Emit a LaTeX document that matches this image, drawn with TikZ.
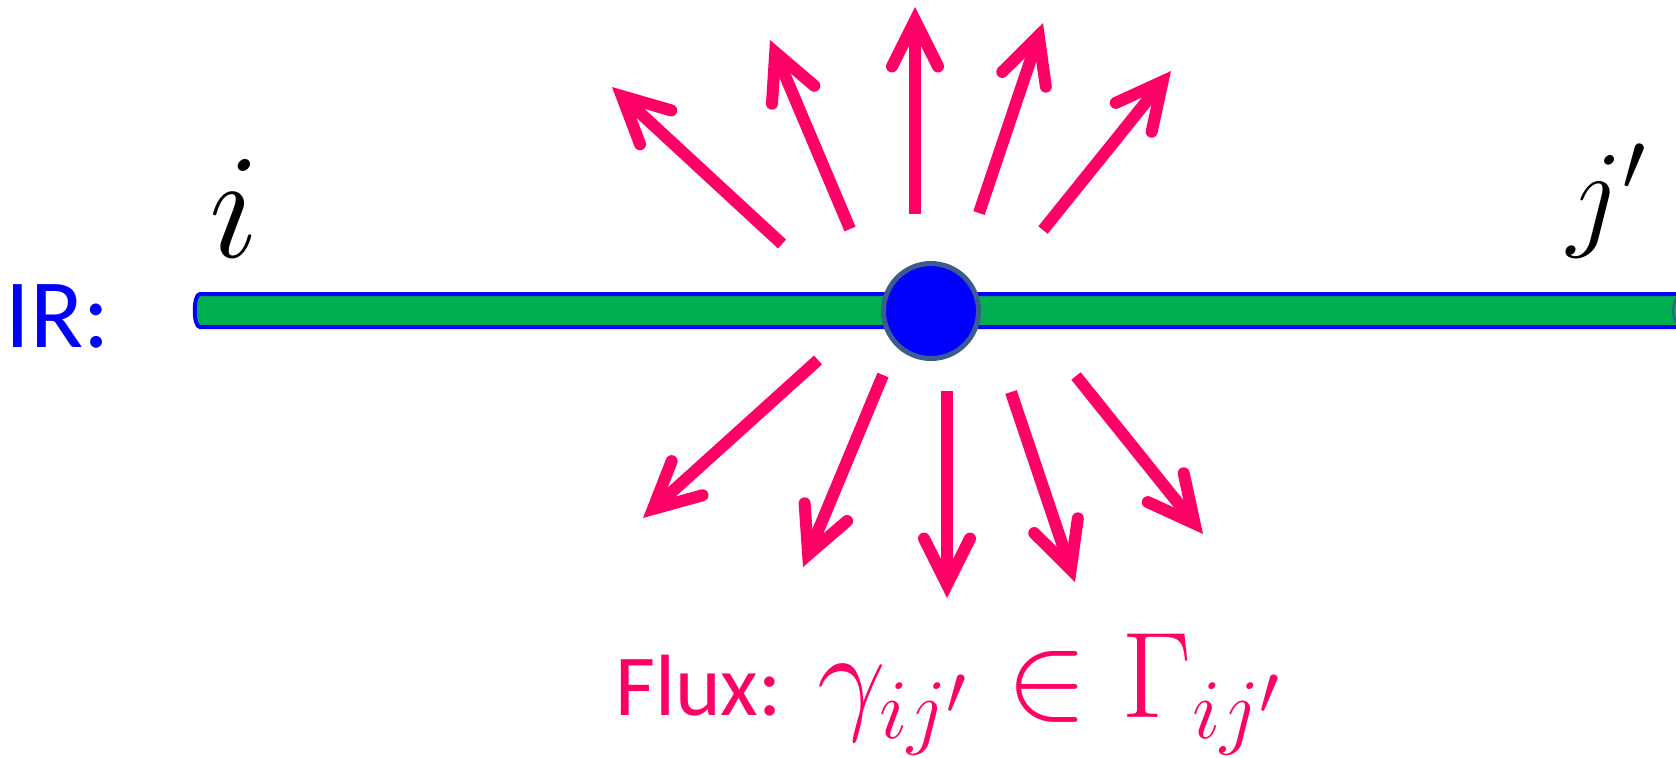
\documentclass[tikz,border=0pt]{standalone}
\usepackage{fontspec}
\newfontfamily\calib{Carlito}
\usetikzlibrary{arrows.meta}

\definecolor{fluxpink}{RGB}{255,0,102}
\definecolor{bargreen}{RGB}{0,176,80}
\definecolor{irblue}{RGB}{0,0,255}
\definecolor{dotrim}{RGB}{59,92,140}

\tikzset{
  flux/.style={draw=fluxpink,line width=6pt,
    -{Straight Barb[length=23pt,width=23pt,line cap=round,line join=miter]}},
  bar/.style={fill=bargreen,draw=irblue,line width=2pt},
  dot/.style={circle,fill=irblue,draw=dotrim,line width=2.5pt,
    inner sep=0pt,minimum size=47.5pt},
  bigmath/.style={anchor=base west,inner sep=0pt,font=\huge,scale=#1},
}

\begin{document}
\begin{tikzpicture}[x=0.5pt,y=-0.5pt]
\useasboundingbox (0,0) rectangle (1676,757);

% the IR line (a can lying on its side)
\draw[bar] (200,294) -- (1690,294) -- (1690,327) -- (200,327)
  .. controls (193,327) and (193,294) .. (200,294) -- cycle;
\draw[dotrim,line width=1pt] (1679,296) .. controls (1671,301) and (1671,320) .. (1679,325);

% flux arrows, upper and lower fan
\foreach \n/\sx/\sy/\tx/\ty in {
  1/782/244/612/87, 2/850/229/770/40, 3/915/214/915/7,
  4/979/213/1043/23, 5/1043/230/1171/71,
  6/818/360/643/518, 7/883/375/803/567, 8/947/391/947/598,
  9/1011/392/1075/582, 10/1076/376/1203/534}
{
  \coordinate (s\n) at (\sx,\sy);
  \coordinate (t\n) at (\tx,\ty);
  \draw[flux] (s\n) -- (t\n);
}

% the point on the line
\node[dot] (q) at (931,311) {};

% labels
\node[anchor=base west,inner sep=0pt,text=irblue,font=\calib\fontsize{49}{55}\selectfont]
  (ir) at (5,347) {IR:};
\node[bigmath=3.6] (lbli) at (208,257) {$i$};
\node[bigmath=2.9] (lblj) at (1566,234) {$j'$};
\node[anchor=base west,inner sep=0pt,text=fluxpink,font=\calib\fontsize{43.5}{50}\selectfont]
  (flux) at (615,715) {Flux:};
\node[bigmath=2.95,text=fluxpink] (fluxmath) at (816,717) {$\gamma_{ij'}\in\Gamma_{ij'}$};

\end{tikzpicture}
\end{document}
